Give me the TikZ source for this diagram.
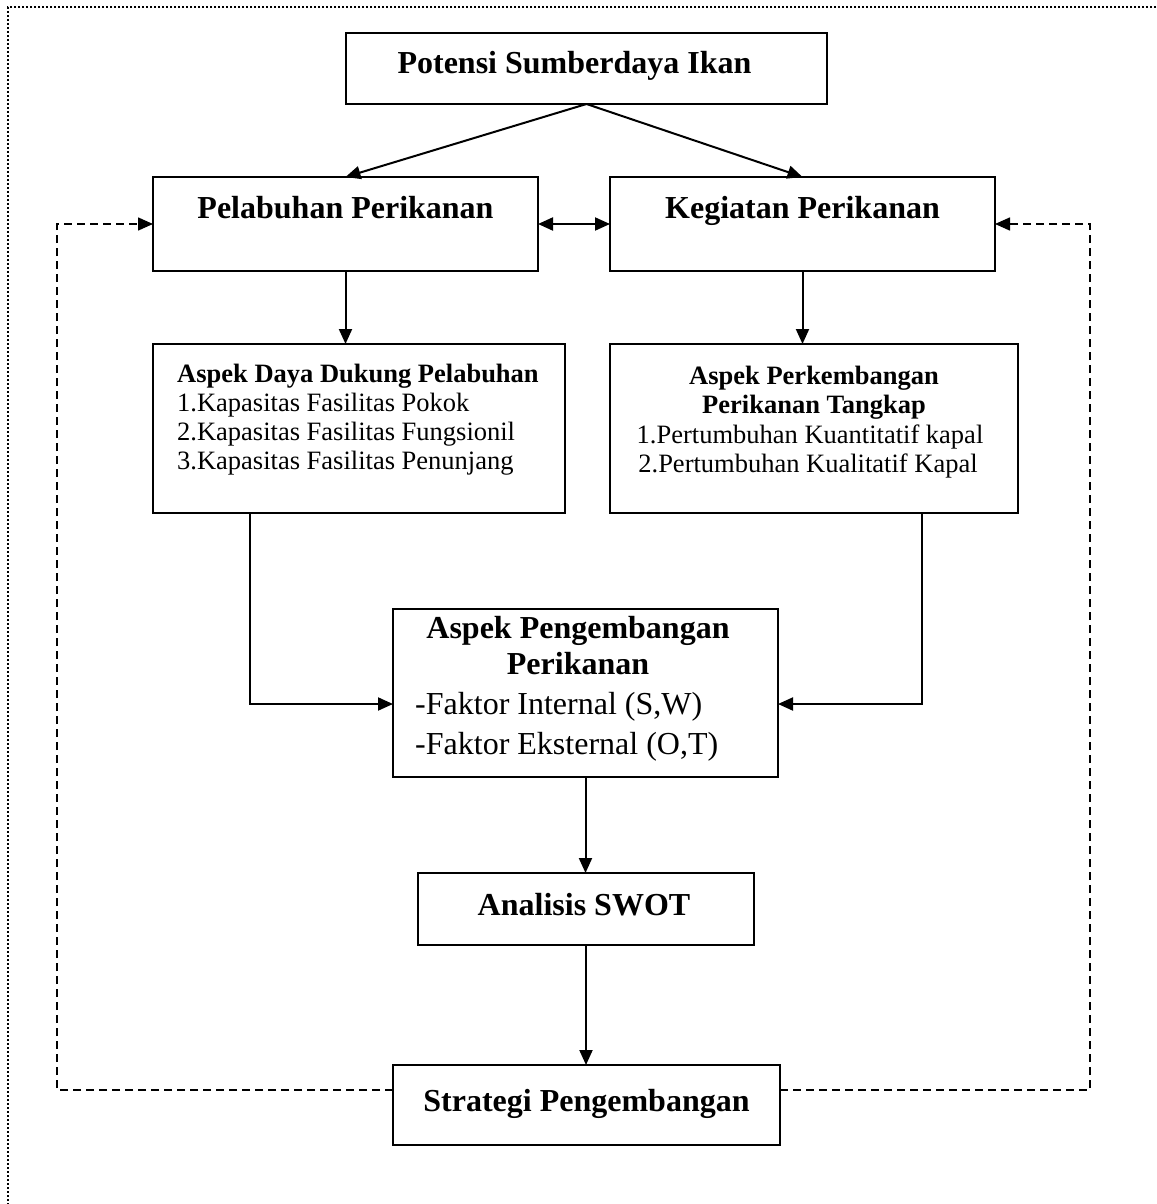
\documentclass[tikz,border=0pt]{standalone}
\usepackage{fontspec}
\setmainfont{Liberation Serif}
\usetikzlibrary{arrows.meta}
\begin{document}
\begin{tikzpicture}[x=1pt,y=-1pt,
  box/.style={draw, line width=2.5pt, inner sep=0pt, outer sep=0pt},
  conn/.style={line width=2pt},
  arr/.style={conn, -{Triangle[length=15pt,width=13pt]}},
  darr/.style={conn, {Triangle[length=15pt,width=13pt]}-{Triangle[length=15pt,width=13pt]}},
  fb/.style={line width=1.6pt, dash pattern=on 8pt off 5pt, -{Triangle[length=15pt,width=13pt,sharp]}},
  frame/.style={line width=2pt, dash pattern=on 2pt off 2pt},
  big/.style={font=\fontsize{32}{38}\selectfont\bfseries, inner sep=0pt},
  mid/.style={font=\fontsize{26.5}{30}\selectfont, inner sep=0pt},
  midb/.style={font=\fontsize{26.5}{30}\selectfont\bfseries, inner sep=0pt},
  reg/.style={font=\fontsize{32}{38}\selectfont, inner sep=0pt}]
\useasboundingbox (0,0) rectangle (1156,1204);
\fill[white] (0,0) rectangle (1156,1204);
% frame
\draw[frame] (1156,7) -- (8,7) -- (8,1204);
% boxes
\node[box, minimum width=481pt, minimum height=71pt] (pot) at (586.5,68.5) {};
\node[box, minimum width=385pt, minimum height=94pt] (pel) at (345.5,224) {};
\node[box, minimum width=385pt, minimum height=94pt] (keg) at (802.5,224) {};
\node[box, minimum width=412pt, minimum height=169pt] (daya) at (359,428.5) {};
\node[box, minimum width=408pt, minimum height=169pt] (perk) at (814,428.5) {};
\node[box, minimum width=385pt, minimum height=168pt] (peng) at (585.5,693) {};
\node[box, minimum width=336pt, minimum height=72pt] (swot) at (586,909) {};
\node[box, minimum width=387pt, minimum height=80pt] (strat) at (586.5,1105) {};
% texts
\node[big, anchor=base] (tpot) at (574.5,74) {Potensi Sumberdaya Ikan};
\node[big, anchor=base] (tpel) at (345.5,218) {Pelabuhan Perikanan};
\node[big, anchor=base] (tkeg) at (802.5,218) {Kegiatan Perikanan};
\node[midb, anchor=base west] (td0) at (177,382) {Aspek Daya Dukung Pelabuhan};
\node[mid, anchor=base west] (td1) at (177,411) {1.Kapasitas Fasilitas Pokok};
\node[mid, anchor=base west] (td2) at (177,440) {2.Kapasitas Fasilitas Fungsionil};
\node[mid, anchor=base west] (td3) at (177,469) {3.Kapasitas Fasilitas Penunjang};
\node[midb, anchor=base] (tp0) at (814,384) {Aspek Perkembangan};
\node[midb, anchor=base] (tp1) at (814,413.5) {Perikanan Tangkap};
\node[mid, anchor=base] (tp2) at (810,443) {1.Pertumbuhan Kuantitatif kapal};
\node[mid, anchor=base] (tp3) at (808,472) {2.Pertumbuhan Kualitatif Kapal};
\node[big, anchor=base] (tg0) at (578,638) {Aspek Pengembangan};
\node[big, anchor=base] (tg1) at (578,674) {Perikanan};
\node[reg, anchor=base west] (tg2) at (415,714) {-Faktor Internal (S,W)};
\node[reg, anchor=base west] (tg3) at (415,754) {-Faktor Eksternal (O,T)};
\node[big, anchor=base] (tswot) at (584,915) {Analisis SWOT};
\node[big, anchor=base] (tstrat) at (586.5,1111) {Strategi Pengembangan};
% connectors
\draw[arr] (pot.south) -- (pel.north);
\draw[arr] (pot.south) -- (keg.north);
\draw[darr] (pel.east) -- (keg.west);
\draw[arr] (pel.south) -- (pel.south |- daya.north);
\draw[arr] (keg.south) -- (keg.south |- perk.north);
\coordinate (dL) at (250,704);
\coordinate (dR) at (922,704);
\draw[arr] (dL |- daya.south) -- (dL) -- (dL -| peng.west);
\draw[arr] (dR |- perk.south) -- (dR) -- (dR -| peng.east);
\draw[arr] (peng.south) -- (peng.south |- swot.north);
\draw[arr] (swot.south) -- (swot.south |- strat.north);
\coordinate (fL) at (57,1090);
\coordinate (fR) at (1090,1090);
\draw[fb] (fL -| strat.west) -- (fL) -- (fL |- pel.west) -- (pel.west);
\draw[fb] (fR -| strat.east) -- (fR) -- (fR |- keg.east) -- (keg.east);
\end{tikzpicture}
\end{document}
